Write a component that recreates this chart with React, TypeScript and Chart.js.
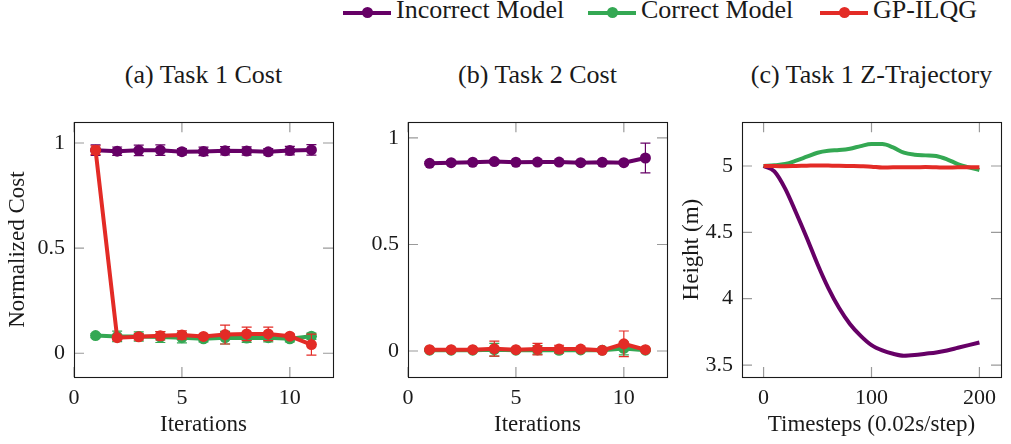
import React, { useEffect, useRef } from "react";
import { Chart, registerables } from "chart.js";

Chart.register(...registerables);

// ---------- data ----------
const ITERATIONS = [1, 2, 3, 4, 5, 6, 7, 8, 9, 10, 11];

const T1_INCORRECT = [0.966, 0.961, 0.965, 0.966, 0.959, 0.96, 0.963, 0.962, 0.958, 0.964, 0.967];
const T1_INCORRECT_ERR = [0.025, 0.02, 0.025, 0.025, 0.015, 0.02, 0.02, 0.02, 0.015, 0.02, 0.025];
const T1_CORRECT = [0.084, 0.08, 0.08, 0.077, 0.074, 0.069, 0.074, 0.072, 0.074, 0.069, 0.081];
const T1_CORRECT_ERR = [0.01, 0.025, 0.022, 0.026, 0.025, 0.015, 0.03, 0.02, 0.02, 0.015, 0.015];
const T1_GP = [0.966, 0.074, 0.078, 0.083, 0.087, 0.08, 0.089, 0.092, 0.092, 0.081, 0.041];
const T1_GP_ERR = [0.02, 0.01, 0.015, 0.02, 0.02, 0.01, 0.045, 0.032, 0.032, 0.01, 0.05];

const T2_INCORRECT = [0.881, 0.884, 0.886, 0.889, 0.886, 0.887, 0.887, 0.884, 0.886, 0.884, 0.906];
const T2_INCORRECT_ERR = [0.008, 0.008, 0.008, 0.008, 0.008, 0.008, 0.008, 0.008, 0.008, 0.008, 0.07];
const T2_CORRECT = [0.004, 0.004, 0.004, 0.006, 0.004, 0.005, 0.003, 0.005, 0.004, 0.012, 0.004];
const T2_CORRECT_ERR = [0.005, 0.005, 0.005, 0.03, 0.005, 0.02, 0.012, 0.005, 0.005, 0.03, 0.005];
const T2_GP = [0.006, 0.006, 0.006, 0.011, 0.006, 0.009, 0.009, 0.009, 0.003, 0.034, 0.006];
const T2_GP_ERR = [0.005, 0.005, 0.005, 0.035, 0.005, 0.027, 0.018, 0.008, 0.005, 0.06, 0.005];

const TIMESTEPS = [0, 10, 20, 30, 40, 50, 60, 70, 80, 90, 100, 110, 120, 130, 140, 150, 160, 170, 180, 190, 200];
const Z_INCORRECT = [5.0, 4.96, 4.83, 4.65, 4.46, 4.26, 4.08, 3.93, 3.81, 3.72, 3.65, 3.61, 3.585, 3.57, 3.575, 3.585, 3.595, 3.61, 3.63, 3.65, 3.67];
const Z_CORRECT = [5.0, 5.005, 5.015, 5.04, 5.07, 5.1, 5.115, 5.12, 5.13, 5.15, 5.165, 5.165, 5.14, 5.1, 5.085, 5.08, 5.075, 5.05, 5.015, 4.99, 4.97];
const Z_GP = [5.0, 5.0, 4.998, 5.0, 5.002, 5.004, 5.003, 5.002, 5.0, 4.998, 4.995, 4.988, 4.99, 4.99, 4.99, 4.992, 4.99, 4.988, 4.99, 4.99, 4.99];

const COST_X_TICKS = [0, 5, 10];
const COST_Y_TICKS = [0, 0.5, 1];
const Z_X_TICKS = [0, 100, 200];
const Z_Y_TICKS = [3.5, 4, 4.5, 5];

const SERIES_NAMES = ["Incorrect Model", "Correct Model", "GP-ILQG"];
const SERIES_COLORS = ["#660066", "#34a853", "#e32b26"];

// ---------- styling ----------
const FONT = "'Liberation Serif', 'DejaVu Serif', serif";
const TEXT = "#1a1a1a";

const errorBars = {
  id: "errorBars",
  beforeDatasetDraw(chart: any, args: any) {
    const ds = chart.data.datasets[args.index];
    if (!ds.errors) return;
    const y = chart.scales.y;
    const ctx = chart.ctx;
    const area = chart.chartArea;
    ctx.save();
    ctx.beginPath();
    ctx.rect(area.left, area.top, area.right - area.left, area.bottom - area.top);
    ctx.clip();
    ctx.strokeStyle = ds.borderColor;
    ctx.lineWidth = 1.2;
    args.meta.data.forEach((pt: any, i: number) => {
      const e = ds.errors[i];
      if (!e) return;
      const v = ds.data[i].y;
      const yt = y.getPixelForValue(v + e);
      const yb = y.getPixelForValue(v - e);
      ctx.beginPath();
      ctx.moveTo(pt.x, yt);
      ctx.lineTo(pt.x, yb);
      ctx.moveTo(pt.x - 5, yt);
      ctx.lineTo(pt.x + 5, yt);
      ctx.moveTo(pt.x - 5, yb);
      ctx.lineTo(pt.x + 5, yb);
      ctx.stroke();
    });
    ctx.restore();
  },
};

const frame = {
  id: "frame",
  beforeDatasetsDraw(chart: any) {
    const { ctx, chartArea: a, scales } = chart;
    const L = 10;
    ctx.save();
    ctx.strokeStyle = "#9a9a9a";
    ctx.lineWidth = 1.2;
    ctx.beginPath();
    scales.x.ticks.forEach((t: any) => {
      const px = scales.x.getPixelForValue(t.value);
      ctx.moveTo(px, a.bottom);
      ctx.lineTo(px, a.bottom - L);
      ctx.moveTo(px, a.top);
      ctx.lineTo(px, a.top + L);
    });
    scales.y.ticks.forEach((t: any) => {
      const py = scales.y.getPixelForValue(t.value);
      ctx.moveTo(a.left, py);
      ctx.lineTo(a.left + L, py);
      ctx.moveTo(a.right, py);
      ctx.lineTo(a.right - L, py);
    });
    ctx.stroke();
    ctx.restore();
  },
  afterDraw(chart: any) {
    const { ctx, chartArea: a } = chart;
    ctx.save();
    ctx.strokeStyle = "#1a1a1a";
    ctx.lineWidth = 1.1;
    ctx.strokeRect(Math.round(a.left) + 0.5, Math.round(a.top) + 0.5, Math.round(a.right - a.left), Math.round(a.bottom - a.top));
    ctx.restore();
  },
};

type PanelSpec = {
  left: number;
  width: number;
  yAxisWidth: number;
  padRight: number;
  xMin: number;
  xMax: number;
  yMin: number;
  yMax: number;
  xTicks: number[];
  yTicks: number[];
  xTitle: string;
  yTitle?: string;
  yTitlePad: number;
  datasets: any[];
};

const TOP = 100;
const HEIGHT = 344;

function makeConfig(p: PanelSpec): any {
  const tickFont = { family: FONT, size: 22 };
  const titleFont = { family: FONT, size: 23, lineHeight: 1 };
  return {
    type: "line",
    data: { datasets: p.datasets },
    options: {
      animation: false,
      responsive: false,
      maintainAspectRatio: false,
      devicePixelRatio: 1,
      layout: { padding: { left: 0, right: p.padRight, top: 19, bottom: 0 } },
      plugins: { legend: { display: false }, tooltip: { enabled: false }, title: { display: false } },
      scales: {
        x: {
          type: "linear",
          min: p.xMin,
          max: p.xMax,
          afterBuildTicks: (s: any) => {
            s.ticks = p.xTicks.map((v) => ({ value: v }));
          },
          afterFit: (s: any) => {
            s.height = 67;
          },
          grid: { display: false, drawTicks: false },
          border: { display: false },
          ticks: { font: tickFont, color: TEXT, padding: 8, maxRotation: 0, autoSkip: false, callback: (v: any) => String(v) },
          title: { display: true, text: p.xTitle, font: titleFont, color: TEXT, padding: { top: 0, bottom: 7.5 } },
        },
        y: {
          type: "linear",
          min: p.yMin,
          max: p.yMax,
          afterBuildTicks: (s: any) => {
            s.ticks = p.yTicks.map((v) => ({ value: v }));
          },
          afterFit: (s: any) => {
            s.width = p.yAxisWidth;
          },
          grid: { display: false, drawTicks: false },
          border: { display: false },
          ticks: { font: tickFont, color: TEXT, padding: 9, autoSkip: false, callback: (v: any) => String(v) },
          title: { display: !!p.yTitle, text: p.yTitle || "", font: titleFont, color: TEXT, padding: { top: p.yTitlePad, bottom: 0 } },
        },
      },
    },
    plugins: [frame, errorBars],
  };
}

function costDatasets(vals: number[][], errs: number[][]) {
  return vals.map((v, k) => ({
    label: SERIES_NAMES[k],
    data: ITERATIONS.map((x, i) => ({ x, y: v[i] })),
    errors: errs[k],
    order: 2 - k,
    borderColor: SERIES_COLORS[k],
    backgroundColor: SERIES_COLORS[k],
    borderWidth: 4,
    pointRadius: 5.5,
    pointBorderWidth: 0,
    pointBackgroundColor: SERIES_COLORS[k],
    tension: 0,
    fill: false,
  }));
}

function zDatasets(vals: number[][]) {
  return vals.map((v, k) => ({
    label: SERIES_NAMES[k],
    data: TIMESTEPS.map((x, i) => ({ x, y: v[i] })),
    order: 2 - k,
    borderColor: SERIES_COLORS[k],
    backgroundColor: SERIES_COLORS[k],
    borderWidth: 4,
    pointRadius: 0,
    cubicInterpolationMode: "monotone",
    fill: false,
  }));
}

const PANELS: PanelSpec[] = [
  {
    left: 0, width: 340, yAxisWidth: 74, padRight: 7,
    xMin: 0, xMax: 12, yMin: -0.113, yMax: 1.099,
    xTicks: COST_X_TICKS, yTicks: COST_Y_TICKS,
    xTitle: "Iterations", yTitle: "Normalized Cost", yTitlePad: 6.5,
    datasets: costDatasets([T1_INCORRECT, T1_CORRECT, T1_GP], [T1_INCORRECT_ERR, T1_CORRECT_ERR, T1_GP_ERR]),
  },
  {
    left: 340, width: 340, yAxisWidth: 68, padRight: 13,
    xMin: 0, xMax: 12, yMin: -0.122, yMax: 1.074,
    xTicks: COST_X_TICKS, yTicks: COST_Y_TICKS,
    xTitle: "Iterations", yTitlePad: 0,
    datasets: costDatasets([T2_INCORRECT, T2_CORRECT, T2_GP], [T2_INCORRECT_ERR, T2_CORRECT_ERR, T2_GP_ERR]),
  },
  {
    left: 680, width: 331, yAxisWidth: 62, padRight: 10,
    xMin: -20, xMax: 220, yMin: 3.41, yMax: 5.33,
    xTicks: Z_X_TICKS, yTicks: Z_Y_TICKS,
    xTitle: "Timesteps (0.02s/step)", yTitle: "Height (m)", yTitlePad: 0,
    datasets: zDatasets([Z_INCORRECT, Z_CORRECT, Z_GP]),
  },
];

const TITLES = ["(a) Task 1 Cost", "(b) Task 2 Cost", "(c) Task 1 Z-Trajectory"];
const LEGEND_X = [343, 588, 820];

function Panel({ spec }: { spec: PanelSpec }) {
  const ref = useRef<HTMLCanvasElement | null>(null);
  useEffect(() => {
    if (!ref.current) return;
    const chart = new Chart(ref.current, makeConfig(spec));
    return () => chart.destroy();
  }, [spec]);
  return (
    <canvas
      ref={ref}
      width={spec.width}
      height={HEIGHT}
      style={{ position: "absolute", left: spec.left, top: TOP, width: spec.width, height: HEIGHT, display: "block" }}
    />
  );
}

export default function App() {
  return (
    <div style={{ position: "absolute", left: 0, top: 0, width: 1011, height: 444, background: "#fff", overflow: "hidden" }}>
      {LEGEND_X.map((x, k) => (
        <React.Fragment key={k}>
          <div style={{ position: "absolute", left: x, top: 10.5, width: 48, height: 4, background: SERIES_COLORS[k] }} />
          <div
            style={{ position: "absolute", left: x + 24 - 5.5, top: 12.5 - 5.5, width: 11, height: 11, borderRadius: "50%", background: SERIES_COLORS[k] }}
          />
          <div
            style={{ position: "absolute", left: x + 53, top: -3, fontFamily: FONT, fontSize: 26, lineHeight: "26px", color: TEXT, whiteSpace: "nowrap" }}
          >
            {SERIES_NAMES[k]}
          </div>
        </React.Fragment>
      ))}
      {PANELS.map((p, i) => {
        const plotLeft = p.left + p.yAxisWidth;
        const plotRight = p.left + p.width - p.padRight;
        return (
          <div
            key={"t" + i}
            style={{
              position: "absolute",
              left: plotLeft - 60,
              width: plotRight - plotLeft + 120,
              top: 62,
              textAlign: "center",
              fontFamily: FONT,
              fontSize: 26,
              lineHeight: "26px",
              color: TEXT,
              whiteSpace: "nowrap",
            }}
          >
            {TITLES[i]}
          </div>
        );
      })}
      {PANELS.map((p, i) => (
        <Panel key={i} spec={p} />
      ))}
    </div>
  );
}
